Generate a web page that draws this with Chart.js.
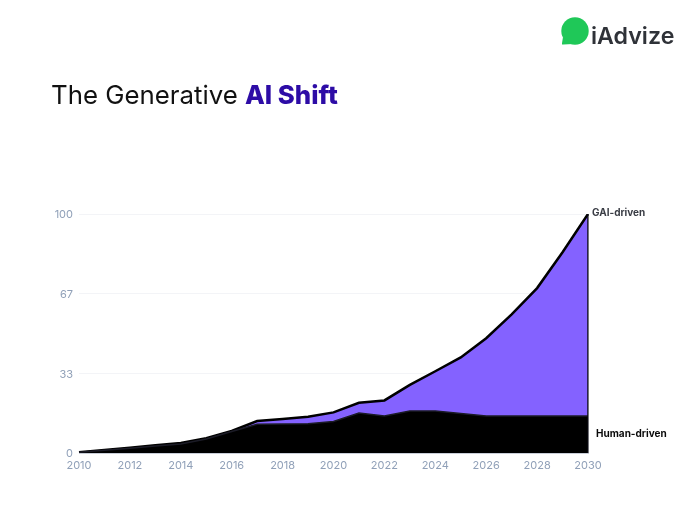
<!DOCTYPE html>
<html><head><meta charset="utf-8">
<script src="https://cdn.jsdelivr.net/npm/chart.js@4"></script>
<style>
html,body{margin:0;padding:0;background:#fff;width:700px;height:522px;overflow:hidden}
#c{position:absolute;left:0;top:0}
#title{position:absolute;left:51px;top:78px;font:400 25.8px/34px Inter,sans-serif;color:#111;white-space:nowrap}
#title b{color:#2d0ca6;font-weight:800}
#logo{position:absolute;left:560px;top:17px}
#brand{position:absolute;left:591px;top:21px;font:600 23.2px/30px Inter,sans-serif;color:#2f3238;white-space:nowrap}
</style></head><body>
<canvas id="c" width="700" height="522"></canvas>
<div id="title">The Generative <b>AI Shift</b></div>
<svg id="logo" width="30" height="30" viewBox="0 0 30 30"><circle cx="15" cy="14" r="13.7" fill="#1fc858"/><path d="M3 20L2 26.2C1.8 27.4 2.4 27.8 3.4 27.6L13 27Z" fill="#1fc858"/></svg>
<div id="brand">iAdvize</div>
<script>
const years=['2010','2011','2012','2013','2014','2015','2016','2017','2018','2019','2020','2021','2022','2023','2024','2025','2026','2027','2028','2029','2030'];
const totalValues=[0.3,1.3,2.2,3.2,4.2,6.2,9.2,13.4,14.2,15.2,17,21,22,28.5,34.2,40,48,58,69,84,100];
const humanValues=[0.3,1.2,2,2.9,3.8,5.9,9,12,12.1,12.2,13.2,16.7,15.5,17.6,17.6,16.5,15.5,15.5,15.5,15.5,15.5];
const edgeValues=[0,100];
const yTicks=[0,33.33,66.67,100];
const seriesLabels=['Human-driven','GAI-driven'];

const endLabels={id:'endLabels',afterDatasetsDraw(ch){
  const c=ch.ctx,x=ch.scales.x,y=ch.scales.y,last=years.length-1;
  c.save();c.textBaseline='middle';c.textAlign='left';c.font='700 10px Inter,sans-serif';
  c.fillStyle='#3a3d45';c.fillText(seriesLabels[1],x.getPixelForValue(last)+4,y.getPixelForValue(100)-1);
  c.fillStyle='#0a0a0a';c.fillText(seriesLabels[0],x.getPixelForValue(last)+8,y.getPixelForValue(8));
  c.restore();
}};
new Chart(document.getElementById('c'),{
  type:'line',
  data:{labels:years,datasets:[
    {label:'edge',data:edgeValues.map(v=>({x:'2030',y:v})),borderColor:'#0a0a12',borderWidth:1.5,pointRadius:0,fill:false,order:0},
    {label:seriesLabels[0],data:humanValues,borderColor:'#1b1b26',backgroundColor:'#000000',borderWidth:1.5,pointRadius:0,tension:0,fill:'origin',order:1},
    {label:seriesLabels[1],data:totalValues,borderColor:'#000000',backgroundColor:'#8462ff',borderWidth:2.5,pointRadius:0,tension:0,fill:'origin',order:2}
  ]},
  options:{
    responsive:false,animation:false,devicePixelRatio:1,
    layout:{padding:{left:0,right:112,top:214,bottom:47}},
    plugins:{legend:{display:false},tooltip:{enabled:false},title:{display:false}},
    scales:{
      x:{type:'category',offset:false,
        grid:{display:false},border:{display:true,color:'#c9ced8',width:1},
        afterFit(s){s.height=22;s.paddingLeft=0;s.paddingRight=0;},
        ticks:{autoSkip:false,maxRotation:0,minRotation:0,padding:-2,color:'#90a0b8',font:{family:'Inter,sans-serif',size:11},
          callback(v,i){return i%2===0?this.getLabelForValue(v):'';}}},
      y:{min:0,max:100,
        afterBuildTicks(s){s.ticks=yTicks.map(v=>({value:v}));},
        afterFit(s){s.width=79;s.paddingTop=0;s.paddingBottom=0;},
        grid:{color:'#f3f4f7',lineWidth:1,drawTicks:false},border:{display:false},
        ticks:{padding:6,labelOffset:1,color:'#90a0b8',font:{family:'Inter,sans-serif',size:11},callback(v){return Math.round(v);}}}
    }
  },
  plugins:[endLabels]
});
</script></body></html>
